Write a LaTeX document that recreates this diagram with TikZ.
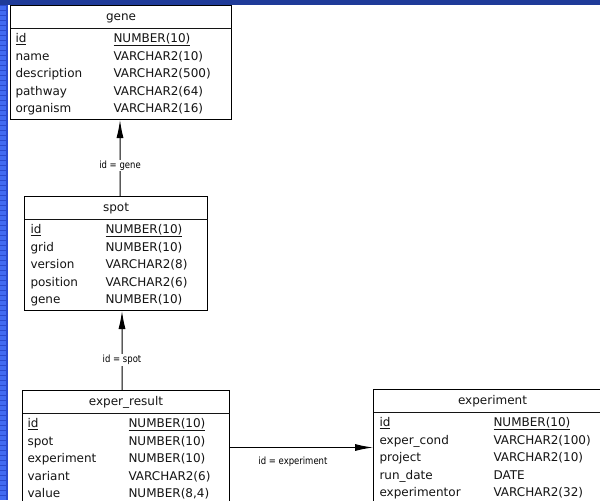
\documentclass[tikz,border=0pt]{standalone}
\usepackage{fontspec}
\usepackage{array}
\setmainfont{DejaVu Sans}
\newfontfamily\linkfont[FakeStretch=0.85]{DejaVu Sans}
\usetikzlibrary{arrows.meta}

\definecolor{BandColor}{rgb}{0.12,0.23,0.60}
\definecolor{StripColor}{rgb}{0.17,0.29,0.80}
\definecolor{StripLight}{rgb}{0.26,0.42,0.95}
\definecolor{FieldColor}{rgb}{0.08,0.08,0.08}

\tikzstyle{table}=[rectangle,
                   draw=black,
                   line width=0.05cm,
                   fill=white,
                   inner sep=0pt,
                   anchor=north west,
                   text=FieldColor,
                   font=\fontsize{17.07pt}{20pt}\selectfont]
\tikzstyle{link}=[line width=0.05cm, -{Latex[length=0.9cm,width=0.35cm]}]
\tikzstyle{link label}=[fill=white, inner sep=1pt,
                        font=\linkfont\fontsize{14.2pt}{16pt}\selectfont]

\setlength{\arrayrulewidth}{0.05cm}
\renewcommand{\arraystretch}{0}
\newcommand{\ertitle}[1]{\multicolumn{2}{c}{\rule[-0.35cm]{0pt}{1.1cm}#1}\\\hline}
\newcommand{\erkey}[2]{\rule[-0.23cm]{0pt}{0.95cm}\underline{#1} & \underline{#2}\\}
\newcommand{\erfield}[2]{\rule[-0.23cm]{0pt}{0.875cm}#1 & #2\\}
\newcommand{\erlast}[2]{\rule[-0.33cm]{0pt}{0.975cm}#1 & #2}

\begin{document}
\begin{tikzpicture}
    \useasboundingbox (0,0) rectangle (30,-25);
    \clip (0,0) rectangle (30,-25);

    % slide background
    \fill[white] (0,0) rectangle (30,-25);
    \fill[StripColor] (0,0) rectangle (0.4,-25);
    \foreach \k in {0,...,99}
      \fill[StripLight] (0,{-0.25*\k-0.3}) rectangle (0.3,{-0.25*\k-0.5});
    \fill[BandColor] (0,0) rectangle (30,-0.25);

    \node at (0.5,  -0.25) (gene) [table] {%
      \begin{tabular}{@{\hspace{0.25cm}}w{l}{4.9cm}@{}w{l}{5.9cm}@{}}
        \ertitle{gene}
        \erkey{id}{NUMBER(10)}
        \erfield{name}{VARCHAR2(10)}
        \erfield{description}{VARCHAR2(500)}
        \erfield{pathway}{VARCHAR2(64)}
        \erlast{organism}{VARCHAR2(16)}
      \end{tabular}};
    \node at (1.2,  -9.8) (spot) [table] {%
      \begin{tabular}{@{\hspace{0.3cm}}w{l}{3.75cm}@{}w{l}{5.1cm}@{}}
        \ertitle{spot}
        \erkey{id}{NUMBER(10)}
        \erfield{grid}{NUMBER(10)}
        \erfield{version}{VARCHAR2(8)}
        \erfield{position}{VARCHAR2(6)}
        \erlast{gene}{NUMBER(10)}
      \end{tabular}};
    \node at (1.1, -19.5) (exper_result) [table] {%
      \begin{tabular}{@{\hspace{0.25cm}}w{l}{5.05cm}@{}w{l}{5.05cm}@{}}
        \ertitle{exper\_result}
        \erkey{id}{NUMBER(10)}
        \erfield{spot}{NUMBER(10)}
        \erfield{experiment}{NUMBER(10)}
        \erfield{variant}{VARCHAR2(6)}
        \erlast{value}{NUMBER(8,4)}
      \end{tabular}};
    \node at (18.65, -19.45) (experiment) [table] {%
      \begin{tabular}{@{\hspace{0.3cm}}w{l}{5.7cm}@{}w{l}{5.9cm}@{}}
        \ertitle{experiment}
        \erkey{id}{NUMBER(10)}
        \erfield{exper\_cond}{VARCHAR2(100)}
        \erfield{project}{VARCHAR2(10)}
        \erfield{run\_date}{DATE}
        \erlast{experimentor}{VARCHAR2(32)}
      \end{tabular}};

    \draw[link] ([xshift=0.2cm]spot.north) -- ([xshift=-0.05cm]gene.south)
      node[link label, pos=0.4] {id = gene};
    \draw[link] ([xshift=-0.2cm]exper_result.north) -- ([xshift=0.3cm]spot.south)
      node[link label, pos=0.38] {id = spot};
    \draw[link] (exper_result.east) -- (exper_result.east -| experiment.west)
      node[link label, pos=0.44, yshift=-0.7cm] {id = experiment};
\end{tikzpicture}
\end{document}
